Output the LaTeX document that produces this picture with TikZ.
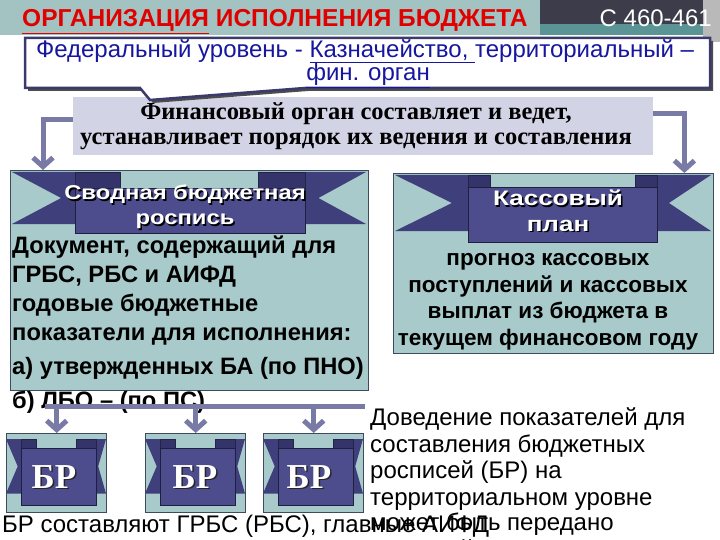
\documentclass[tikz,border=0pt]{standalone}
\usepackage{fontspec}
\setmainfont{Liberation Sans}
\newfontfamily\serifb{Liberation Serif}
\usetikzlibrary{arrows.meta,calc}
\definecolor{tealbg}{HTML}{A8CACA}
\definecolor{boxedge}{HTML}{3E4A5E}
\definecolor{rbpanel}{HTML}{4D4D8E}
\definecolor{rbtail}{HTML}{3F3F7C}
\definecolor{rbfold}{HTML}{34346A}
\definecolor{arrowc}{HTML}{7A7AA6}
\definecolor{lav}{HTML}{D3D3E6}
\definecolor{bandL}{HTML}{A3C2C2}
\definecolor{bandR}{HTML}{3C3C4A}
\definecolor{bandT}{HTML}{5A9494}
\definecolor{callb}{HTML}{3A3A6C}
\definecolor{bluetxt}{HTML}{16169E}
\definecolor{redtxt}{HTML}{E00000}
\newcommand\ribbonshape[9]{%
  \pgfmathsetmacro\rbnl{#1+0.78*(#2-#1)}%
  \pgfmathsetmacro\rbnr{#6-0.78*(#6-#5)}%
  \pgfmathsetmacro\rbtb{#9-0.2*(#9-#8)}%
  \pgfmathsetmacro\rbmid{(#7+\rbtb)/2}%
  \fill[rbtail] (#1,#7) -- (#3,#7) -- (#3,\rbtb) -- (#1,\rbtb) -- (\rbnl,\rbmid) -- cycle;
  \fill[rbtail] (#6,#7) -- (#4,#7) -- (#4,\rbtb) -- (#6,\rbtb) -- (\rbnr,\rbmid) -- cycle;
  \filldraw[fill=rbfold, draw=rbfold!70!black, line width=0.6pt] (#2,#7) rectangle (#3,#8+4);
  \filldraw[fill=rbfold, draw=rbfold!70!black, line width=0.6pt] (#4,#7) rectangle (#5,#8+4);
  \filldraw[fill=rbpanel, draw=rbfold!60!black, line width=0.8pt] (#2,#8) rectangle (#5,#9);
}
\tikzset{
  tealbox/.style={fill=tealbg, draw=boxedge, line width=1.4pt, anchor=north west},
  conn/.style={draw=arrowc, line width=5pt, -{Straight Barb[length=9pt,width=20pt]}},
  bodyL/.style={anchor=base west, font=\fontsize{24}{28}\selectfont},
  bodyB/.style={anchor=base west, font=\bfseries\fontsize{23.7}{28}\selectfont},
  bodyC/.style={anchor=base, font=\bfseries\fontsize{22.5}{26}\selectfont},
  ribtxt/.style={anchor=base, text=white, font=\bfseries\fontsize{20}{24}\selectfont},
  ribshadow/.style={ribtxt, text=black},
  brtxt/.style={anchor=base, text=white, font=\serifb\bfseries\fontsize{35}{36}\selectfont},
  brshadow/.style={brtxt, text=black!85},
}
\begin{document}
\begin{tikzpicture}[x=1pt,y=-1pt, every node/.style={inner sep=0pt}]
\useasboundingbox (0,0) rectangle (720,540);
\clip (0,0) rectangle (720,540);
\fill[white] (0,0) rectangle (720,540);
% header band
\fill[bandL] (0,0) rectangle (540,35);
\fill[bandR] (540,0) rectangle (703,24);
\fill[bandT] (540,24) rectangle (703,35);
\fill[gray!55] (703,0) rectangle (720,42);
\node[anchor=base west, text=redtxt, font=\bfseries\fontsize{24.5}{28}\selectfont] (title) at (22,27) {\underline{ОРГАНИЗАЦИЯ} ИСПОЛНЕНИЯ БЮДЖЕТА};
\node[anchor=base east, text=white, font=\fontsize{24}{28}\selectfont] (page) at (712,27) {С 460-461};
% grey box
\node[fill=lav, minimum width=580, minimum height=58, anchor=north west] (fin) at (73,97) {};
\node[anchor=base, font=\serifb\bfseries\fontsize{24.5}{26}\selectfont] (fin1) at (356,120) {Финансовый орган составляет и ведет,};
\node[anchor=base, font=\serifb\bfseries\fontsize{24.5}{26}\selectfont] (fin2) at (356,145) {устанавливает порядок их ведения и составления};
% callout
\fill[black!70] (28,41) -- (713,41) -- (713,91) -- (308,91) -- (153,103) -- (143,91) -- (28,91) -- cycle;
\filldraw[draw=callb, line width=2.5pt, fill=white] (25,38) -- (710,38) -- (710,88) -- (305,88) -- (150,100) -- (140,88) -- (25,88) -- cycle;
\node[anchor=base, text=bluetxt, font=\fontsize{24}{26}\selectfont] (fed1) at (365,58) {Федеральный уровень - \underline{Казначейство, }территориальный –};
\node[anchor=base, text=bluetxt, font=\fontsize{24}{26}\selectfont] (fed2) at (368,81) {\underline{фин. орган}};
% main boxes
\node[tealbox, minimum width=358, minimum height=220] (svod) at (10,170) {};
\node[tealbox, minimum width=320, minimum height=180] (kas) at (393,173) {};
\ribbonshape{12}{75}{120}{258}{305}{366}{172}{188}{233}
\ribbonshape{395}{468}{490}{635}{657}{711}{175}{187}{242}
\node[ribshadow] (svs1) at (186.5,201.5) {\scalebox{1.19}[1]{Сводная бюджетная}};
\node[ribtxt] (svt1) at (185,200) {\scalebox{1.19}[1]{Сводная бюджетная}};
\node[ribshadow] (svs2) at (186.5,226.5) {\scalebox{1.19}[1]{роспись}};
\node[ribtxt] (svt2) at (185,225) {\scalebox{1.19}[1]{роспись}};
\node[ribshadow] (kss1) at (559.5,207.5) {\fontsize{21}{24}\selectfont\scalebox{1.24}[1]{Кассовый}};
\node[ribtxt] (kst1) at (558,206) {\fontsize{21}{24}\selectfont\scalebox{1.24}[1]{Кассовый}};
\node[ribshadow] (kss2) at (559.5,232.5) {\fontsize{21}{24}\selectfont\scalebox{1.24}[1]{план}};
\node[ribtxt] (kst2) at (558,231) {\fontsize{21}{24}\selectfont\scalebox{1.24}[1]{план}};
% left box text
\node[bodyB] (l1) at (12,253) {Документ, содержащий для};
\node[bodyB] (l2) at (12,282) {ГРБС, РБС и АИФД};
\node[bodyB] (l3) at (12,311) {годовые бюджетные};
\node[bodyB] (l4) at (12,340) {показатели для исполнения:};
\node[bodyB] (l5) at (12,374) {а) утвержденных БА (по ПНО)};
\node[bodyB] (l6) at (12,408) {б) ЛБО – (по ПС)};
% right box text
\node[bodyC] (r1) at (548,265) {прогноз кассовых};
\node[bodyC] (r2) at (548,292) {поступлений и кассовых};
\node[bodyC] (r3) at (548,318) {выплат из бюджета в};
\node[bodyC] (r4) at (548,345) {текущем финансовом году};
% BR boxes
\node[tealbox, minimum width=100, minimum height=79] (br1) at (6,433) {};
\node[tealbox, minimum width=100, minimum height=79] (br2) at (145,433) {};
\node[tealbox, minimum width=100, minimum height=79] (br3) at (263,433) {};
\ribbonshape{6}{21}{36}{76}{96}{106}{439}{448}{505}
\ribbonshape{145}{160}{175}{215}{235}{245}{439}{448}{505}
\ribbonshape{263}{278}{293}{333}{353}{363}{439}{448}{505}
\node[brshadow] (brs1) at (55.5,489.5) {БР};
\node[brtxt] (brt1) at (54,488) {БР};
\node[brshadow] (brs2) at (196.5,489.5) {БР};
\node[brtxt] (brt2) at (195,488) {БР};
\node[brshadow] (brs3) at (310.5,489.5) {БР};
\node[brtxt] (brt3) at (309,488) {БР};
% lower texts
\node[bodyL] (bot) at (2,532) {БР составляют ГРБС (РБС), главные АИФД};
\node[bodyL] (d1) at (370,425) {Доведение показателей для};
\node[bodyL] (d2) at (370,452) {составления бюджетных};
\node[bodyL] (d3) at (370,478) {росписей (БР) на};
\node[bodyL] (d4) at (370,505) {территориальном уровне};
\node[bodyL] (d5) at (370,530) {может быть передано};
\node[bodyL] (d6) at (370,557) {Казначейству};
% connectors
\draw[conn] ([yshift=7pt]fin.west) -| ([xshift=33pt]svod.north west);
\draw[conn] ([yshift=13pt]fin.east) -| ([xshift=-30pt]kas.north east);
\coordinate (busL) at (45,406);
\coordinate (busR) at (365,406);
\draw[draw=arrowc, line width=5pt] (busL) -- (busR);
\draw[conn] (br1.north |- busL) -- (br1.north);
\draw[conn] (br2.north |- busL) -- (br2.north);
\draw[conn] (br3.north |- busL) -- (br3.north);
\end{tikzpicture}
\end{document}
